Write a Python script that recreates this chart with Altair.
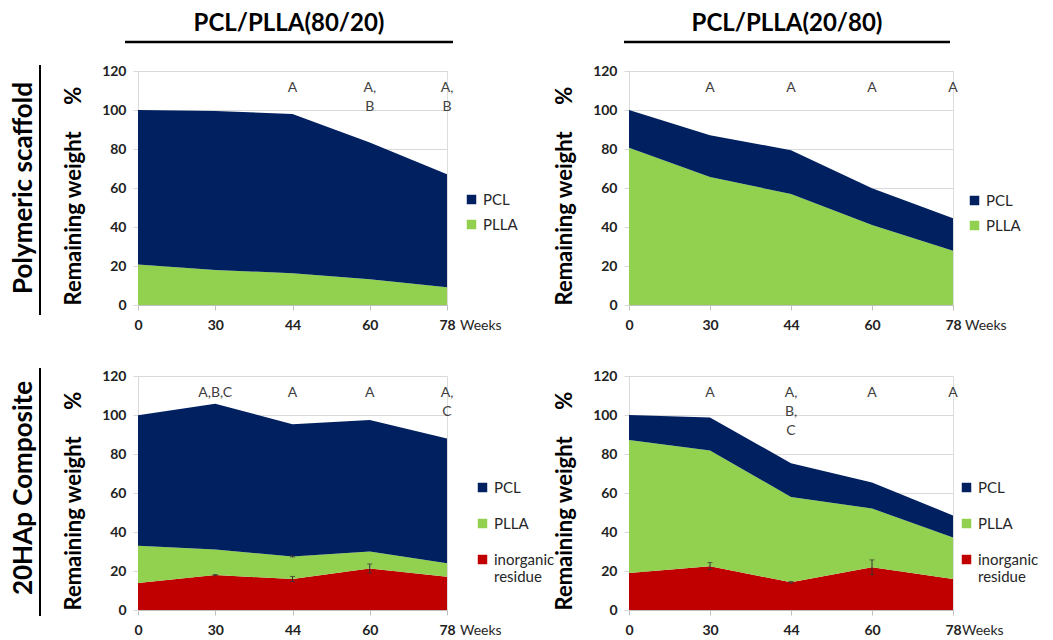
import altair as alt
import pandas as pd

weeks = ["0", "30", "44", "60", "78"]
series_names = ["PCL", "PLLA", "inorganic residue"]
series_colors = ["#002060", "#92D050", "#C00000"]

# Top-left: PCL/PLLA(80/20), polymeric scaffold
a_pcl = [79.2, 81.5, 81.7, 70.1, 57.9]
a_plla = [20.8, 18.0, 16.3, 13.2, 9.1]
a_letters = ["", "", "A", "A,\nB", "A,\nB"]

# Top-right: PCL/PLLA(20/80), polymeric scaffold
b_pcl = [19.3, 21.3, 22.5, 18.9, 16.7]
b_plla = [80.7, 65.7, 56.9, 41.0, 27.8]
b_letters = ["", "A", "A", "A", "A"]

# Bottom-left: PCL/PLLA(80/20), 20HAp composite
c_pcl = [66.9, 74.8, 67.8, 67.5, 64.0]
c_plla = [19.2, 13.1, 11.6, 8.7, 6.9]
c_inorg = [13.8, 17.9, 15.9, 21.3, 17.1]
c_letters = ["", "A,B,C", "A", "A", "A,\nC"]
c_err_week = ["30", "44", "44", "60"]
c_err_center = [17.9, 15.9, 27.5, 21.3]
c_err_half = [0.3, 1.3, 0.3, 2.3]

# Bottom-right: PCL/PLLA(20/80), 20HAp composite
d_pcl = [12.8, 16.9, 17.3, 13.4, 11.3]
d_plla = [68.2, 59.3, 43.8, 30.1, 21.3]
d_inorg = [19.0, 22.5, 14.2, 21.9, 15.9]
d_letters = ["", "A", "A,\nB,\nC", "A", "A"]
d_err_week = ["30", "44", "60"]
d_err_center = [22.5, 14.2, 21.9]
d_err_half = [1.8, 0.4, 3.8]

col_titles = ["PCL/PLLA(80/20)", "PCL/PLLA(20/80)"]
row_titles = ["Polymeric scaffold", "20HAp Composite"]
y_title = "Remaining weight" + "\u00a0" * 5 + "%"
y_ticks = [0, 20, 40, 60, 80, 100, 120]

FONT = "Lato"


def stack_df(comps):
    rows = []
    base = [0.0] * len(weeks)
    for name, vals in comps:  # bottom to top
        for i, wk in enumerate(weeks):
            rows.append({"week": wk, "series": name, "lo": base[i], "hi": base[i] + vals[i]})
        base = [b + v for b, v in zip(base, vals)]
    return pd.DataFrame(rows)


def x_enc():
    return alt.X(
        "week:O", sort=weeks, title=None,
        scale=alt.Scale(type="point", padding=0),
        axis=alt.Axis(labelAngle=0, labelFontSize=14, labelFontWeight="bold",
                      labelColor="#222222", labelPadding=8, tickSize=5,
                      tickColor="#BFBFBF", domainColor="#BFBFBF", grid=False,
                      labelFont=FONT),
    )


yscale = alt.Scale(domain=[0, 120], nice=False)
y_axis = alt.Axis(values=y_ticks, title=y_title, titleFontSize=22,
                  titleFontWeight="bold", titleColor="#000000",
                  titleAnchor="start", titlePadding=16, titleFont=FONT,
                  labelFontSize=14, labelFontWeight="bold", labelFont=FONT,
                  labelOverlap=False, labelColor="#222222", labelPadding=7, tickSize=5,
                  tickColor="#D9D9D9", domainColor="#D9D9D9",
                  gridColor="#D9D9D9", grid=True)


def y_enc(f):
    return alt.Y(f, scale=yscale, title=y_title, axis=y_axis)


def panel(comps, letters, w, h, lx, ly, rpad, weeks_dx, errs=None, deco=None):
    df = stack_df(comps)
    names = [n for n, _ in comps]
    domain = [n for n in series_names if n in names]
    rng = [series_colors[series_names.index(n)] for n in domain]
    area = alt.Chart(df).mark_area(opacity=1, strokeWidth=0).encode(
        x=x_enc(),
        y=y_enc("lo:Q"),
        y2="hi:Q",
        color=alt.Color("series:N", scale=alt.Scale(domain=domain, range=rng),
                        legend=alt.Legend(title=None, orient="none", legendX=lx, legendY=ly,
                                          symbolType="square", symbolSize=90,
                                          symbolStrokeWidth=0, labelFontSize=15,
                                          labelFont=FONT, labelColor="#262626",
                                          rowPadding=rpad, labelOffset=4, padding=0,
                                          labelExpr="datum.label == 'inorganic residue' ? ['inorganic', 'residue'] : datum.label")),
    )
    layers = [area]
    if errs is not None:
        ew, ec, eh = errs
        edf = pd.DataFrame({"week": ew, "lo": [c - e for c, e in zip(ec, eh)],
                            "hi": [c + e for c, e in zip(ec, eh)]})
        layers.append(alt.Chart(edf).mark_rule(color="#333333", strokeWidth=1).encode(
            x=x_enc(), y=y_enc("lo:Q"), y2="hi:Q"))
        for f in ["lo", "hi"]:
            layers.append(alt.Chart(edf).mark_tick(color="#333333", orient="horizontal",
                                                   size=5, thickness=1).encode(
                x=x_enc(), y=y_enc(f + ":Q")))
    tdf = pd.DataFrame({"week": weeks, "txt": [s.split("\n") for s in letters]})
    tdf = tdf[[s != "" for s in letters]]
    layers.append(alt.Chart(tdf).mark_text(fontSize=14, font=FONT, color="#404040",
                                           baseline="top", lineHeight=19).encode(
        x=x_enc(), y=alt.YDatum(115, scale=yscale, axis=y_axis, title=y_title), text="txt"))
    layers.append(alt.Chart(pd.DataFrame({"t": ["Weeks"]})).mark_text(
        fontSize=14, font=FONT, color="#262626", align="left", baseline="middle").encode(
        x=alt.value(w + weeks_dx), y=alt.value(h + 21), text="t:N"))
    if deco is not None:
        layers.extend(deco)
    return alt.layer(*layers).properties(width=w, height=h)


def text_deco(t, x, y, size, angle=0):
    return alt.Chart(pd.DataFrame({"t": [t]})).mark_text(
        fontSize=size, font=FONT, fontWeight="bold", color="#000000",
        angle=angle, align="center", baseline="middle").encode(
        x=alt.value(x), y=alt.value(y), text="t:N")


def hline(x1, x2, y):
    return alt.Chart(pd.DataFrame({"a": [0]})).mark_rule(color="#000000", strokeWidth=2.5).encode(
        x=alt.value(x1), x2=alt.value(x2), y=alt.value(y))


def vline(x, y1, y2):
    return alt.Chart(pd.DataFrame({"a": [0]})).mark_rule(color="#000000", strokeWidth=2).encode(
        x=alt.value(x), y=alt.value(y1), y2=alt.value(y2))


W1, W2, H = 309, 324, 234

p1 = panel([("PLLA", a_plla), ("PCL", a_pcl)], a_letters, W1, H, 326, 121, 9, 13,
           deco=[text_deco(col_titles[0], 151, -47, 24), hline(-13, 315, -29),
                 text_deco(row_titles[0], -114, 117, 26, 270), vline(-98, -6, 244)])
p2 = panel([("PLLA", b_plla), ("PCL", b_pcl)], b_letters, W2, H, 338, 122, 9, 12,
           deco=[text_deco(col_titles[1], 158, -47, 24), hline(-5, 321, -29)])
p3 = panel([("inorganic residue", c_inorg), ("PLLA", c_plla), ("PCL", c_pcl)], c_letters,
           W1, H, 337, 104, 20, 13, errs=(c_err_week, c_err_center, c_err_half),
           deco=[text_deco(row_titles[1], -114, 112, 26, 270), vline(-98, -8, 240)])
p4 = panel([("inorganic residue", d_inorg), ("PLLA", d_plla), ("PCL", d_pcl)], d_letters,
           W2, H, 330, 104, 20, 9, errs=(d_err_week, d_err_center, d_err_half))

chart = alt.concat(p1, p2, p3, p4, columns=2).properties(
    spacing={"row": 71, "column": 182}, bounds="flush", align="each",
    padding={"left": 2, "top": 3, "right": 0, "bottom": 0}
).resolve_scale(color="independent", x="independent", y="independent").resolve_legend(
    color="independent"
).configure_view(stroke=None).configure(font=FONT)

chart.save("out.html", embed_options={"renderer": "svg", "actions": False})
